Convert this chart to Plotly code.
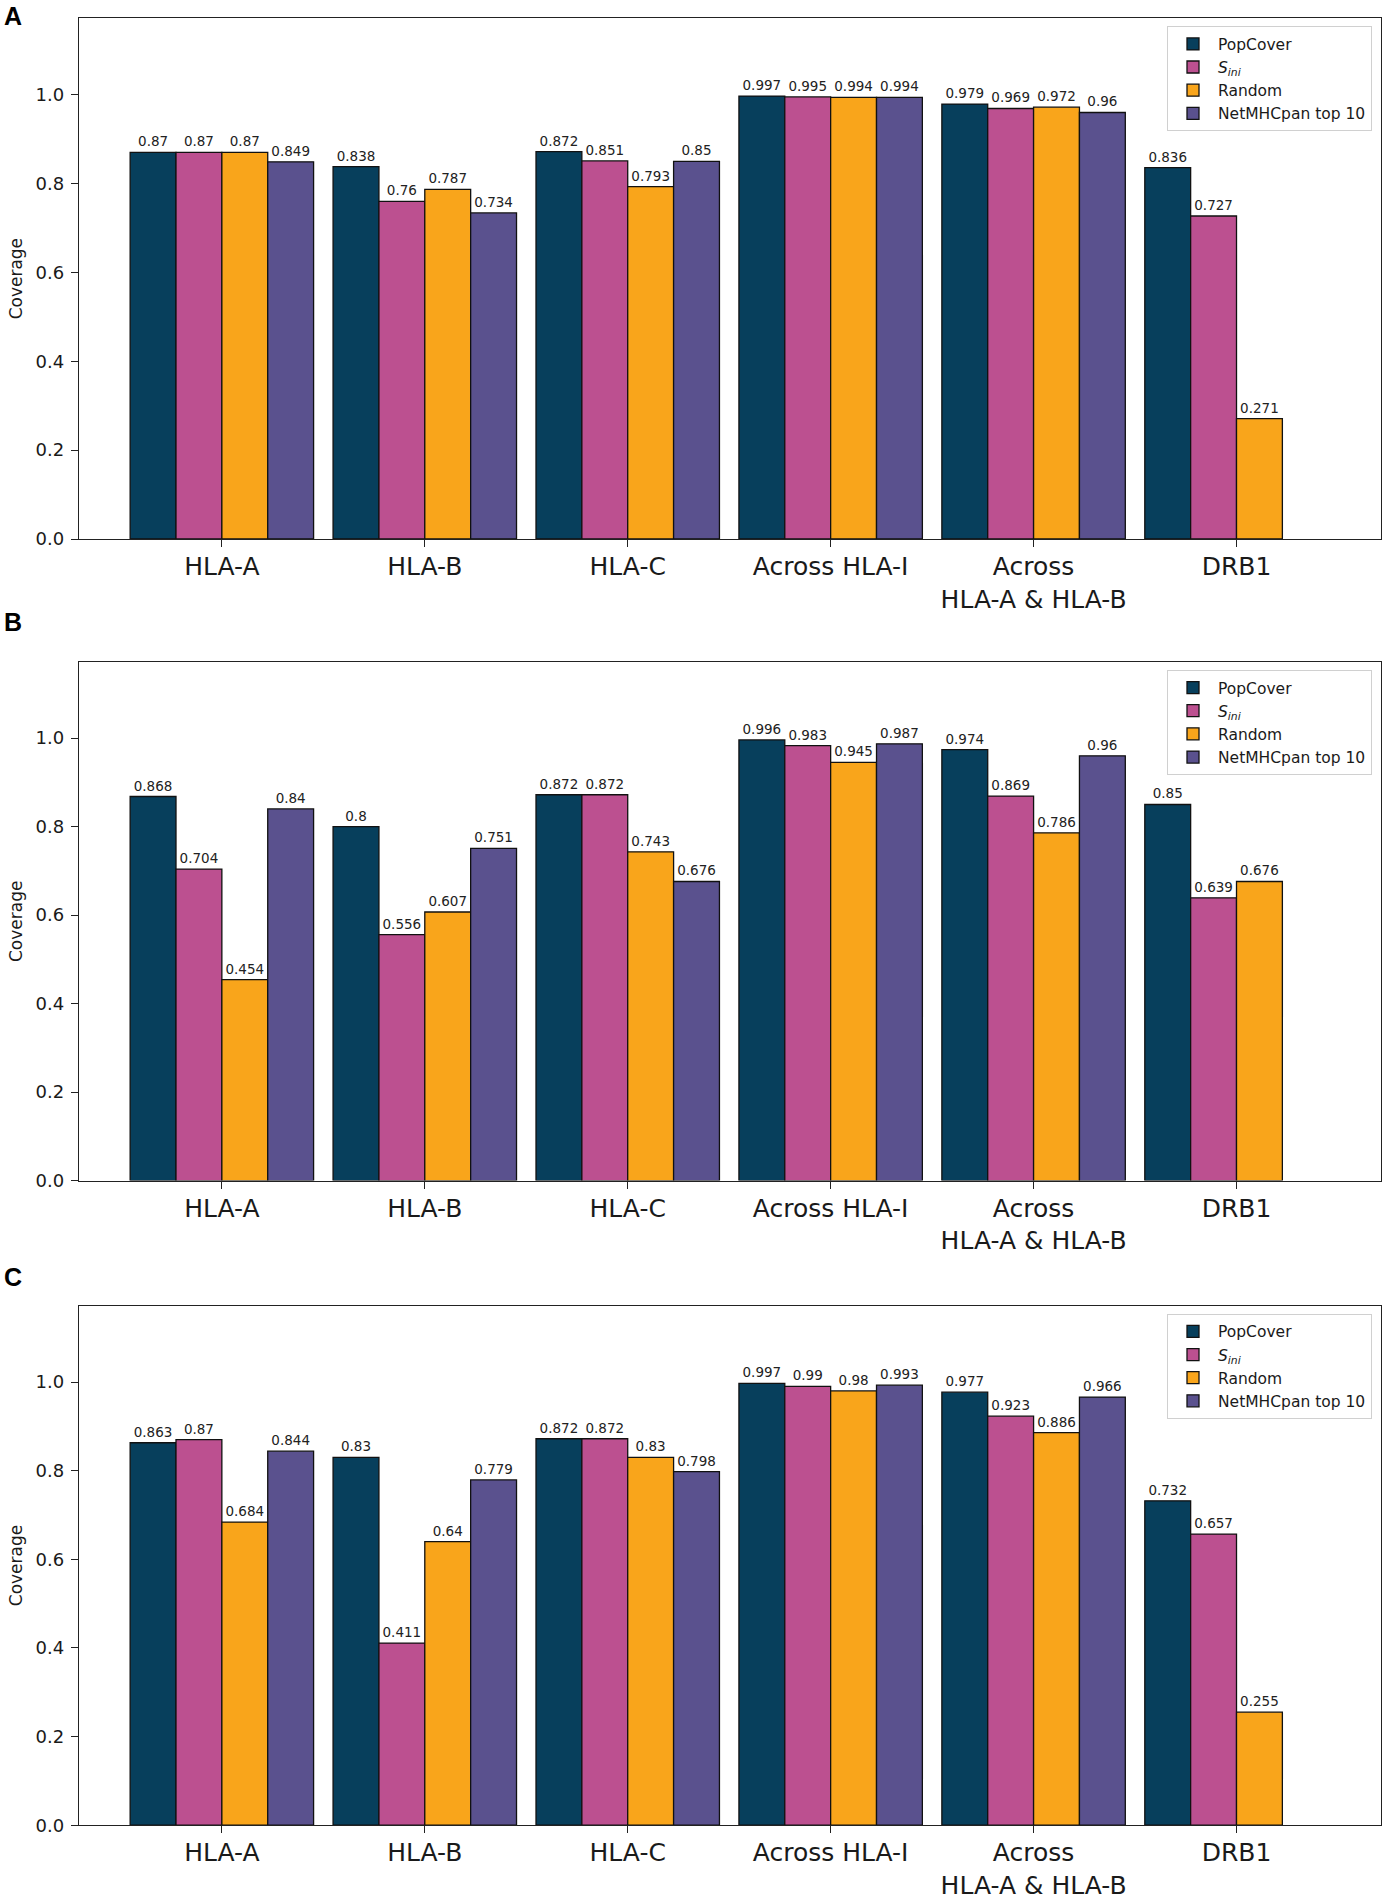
import plotly.graph_objects as go

# ---------------- data ----------------
categories = ["HLA-A", "HLA-B", "HLA-C", "Across HLA-I", "Across<br>HLA-A & HLA-B", "DRB1"]
series_names = ["PopCover", "<i>S</i><sub><i>ini</i></sub>", "Random", "NetMHCpan top 10"]

panel_letters = ["A", "B", "C"]

a_popcover = [0.87, 0.838, 0.872, 0.997, 0.979, 0.836]
a_sini = [0.87, 0.76, 0.851, 0.995, 0.969, 0.727]
a_random = [0.87, 0.787, 0.793, 0.994, 0.972, 0.271]
a_netmhc = [0.849, 0.734, 0.85, 0.994, 0.96, None]

b_popcover = [0.868, 0.8, 0.872, 0.996, 0.974, 0.85]
b_sini = [0.704, 0.556, 0.872, 0.983, 0.869, 0.639]
b_random = [0.454, 0.607, 0.743, 0.945, 0.786, 0.676]
b_netmhc = [0.84, 0.751, 0.676, 0.987, 0.96, None]

c_popcover = [0.863, 0.83, 0.872, 0.997, 0.977, 0.732]
c_sini = [0.87, 0.411, 0.872, 0.99, 0.923, 0.657]
c_random = [0.684, 0.64, 0.83, 0.98, 0.886, 0.255]
c_netmhc = [0.844, 0.779, 0.798, 0.993, 0.966, None]

y_ticks = [0.0, 0.2, 0.4, 0.6, 0.8, 1.0]

panels = [
    [a_popcover, a_sini, a_random, a_netmhc],
    [b_popcover, b_sini, b_random, b_netmhc],
    [c_popcover, c_sini, c_random, c_netmhc],
]

# ---------------- style ----------------
colors = ["#073f5c", "#bc5090", "#f9a51b", "#5a518e"]
W, H = 1384, 1899
FONT = "DejaVu Sans"
INK = "#1a1a1a"

# plot-area pixel boxes (top, bottom) for each panel
panel_px = [(18.3, 539.0), (662.0, 1180.6), (1305.8, 1825.2)]
x_px = (79.0, 1381.0)
letter_px = [16.0, 621.5, 1276.5]


def py(px):
    return 1 - px / H


def pxx(px):
    return px / W


fig = go.Figure()
legend_keys = ["legend", "legend2", "legend3"]

for p, series in enumerate(panels):
    ax = "" if p == 0 else str(p + 1)
    for s, vals in enumerate(series):
        xs = [c for c, v in zip(categories, vals) if v is not None]
        ys = [v for v in vals if v is not None]
        fig.add_trace(go.Bar(
            x=xs, y=ys, name=series_names[s],
            xaxis="x" + ax, yaxis="y" + ax,
            marker=dict(color=colors[s], line=dict(color="#111111", width=1.3)),
            text=[str(v) for v in ys], textposition="outside", textangle=0,
            constraintext="none", cliponaxis=False,
            textfont=dict(family=FONT, size=13.5, color="#222222"),
            legend=legend_keys[p], showlegend=True,
            hoverinfo="x+y",
        ))

layout = dict(
    width=W, height=H,
    margin=dict(l=0, r=0, t=0, b=0),
    paper_bgcolor="white", plot_bgcolor="white",
    barmode="group", bargap=0.096, bargroupgap=0.0,
    font=dict(family=FONT, color=INK),
)

annotations = []
for p in range(3):
    ax = "" if p == 0 else str(p + 1)
    top, bot = panel_px[p]
    layout["xaxis" + ax] = dict(
        domain=[pxx(x_px[0]), pxx(x_px[1])], anchor="y" + ax,
        range=[-0.704, 5.712], type="category",
        categoryorder="array", categoryarray=categories,
        showline=True, linecolor="#222222", linewidth=1.3, mirror=True,
        ticks="outside", ticklen=7, tickwidth=1.3, tickcolor="#222222",
        tickfont=dict(family=FONT, size=25, color=INK), ticklabelstandoff=-2,
        showgrid=False, zeroline=False, automargin=False,
    )
    layout["yaxis" + ax] = dict(
        domain=[py(bot), py(top)], anchor="x" + ax,
        range=[0, 1.172], tickvals=y_ticks, tickformat=".1f",
        showline=True, linecolor="#222222", linewidth=1.3, mirror=True,
        ticks="outside", ticklen=7, tickwidth=1.3, tickcolor="#222222",
        tickfont=dict(family=FONT, size=18, color=INK), ticklabelstandoff=3,
        title=dict(text="Coverage", font=dict(family=FONT, size=17, color=INK), standoff=8),
        showgrid=False, zeroline=False, automargin=False,
    )
    layout[legend_keys[p]] = dict(
        x=pxx(1372), xanchor="right", y=py(top + 8), yanchor="top",
        bgcolor="rgba(255,255,255,0.9)", bordercolor="#d0d0d0", borderwidth=1,
        font=dict(family=FONT, size=15.5, color=INK),
        tracegroupgap=0, itemwidth=40,
    )
    annotations.append(dict(
        text="<b>%s</b>" % panel_letters[p], xref="paper", yref="paper",
        x=pxx(2), y=py(letter_px[p]), xanchor="left", yanchor="middle",
        showarrow=False, font=dict(family="Liberation Sans", size=25, color="#000000"),
    ))

layout["annotations"] = annotations
fig.update_layout(**layout)

fig.write_html(
    "out.html",
    config={"displayModeBar": False},
    post_script="document.body.style.margin='0';document.body.style.overflow='hidden';",
)
